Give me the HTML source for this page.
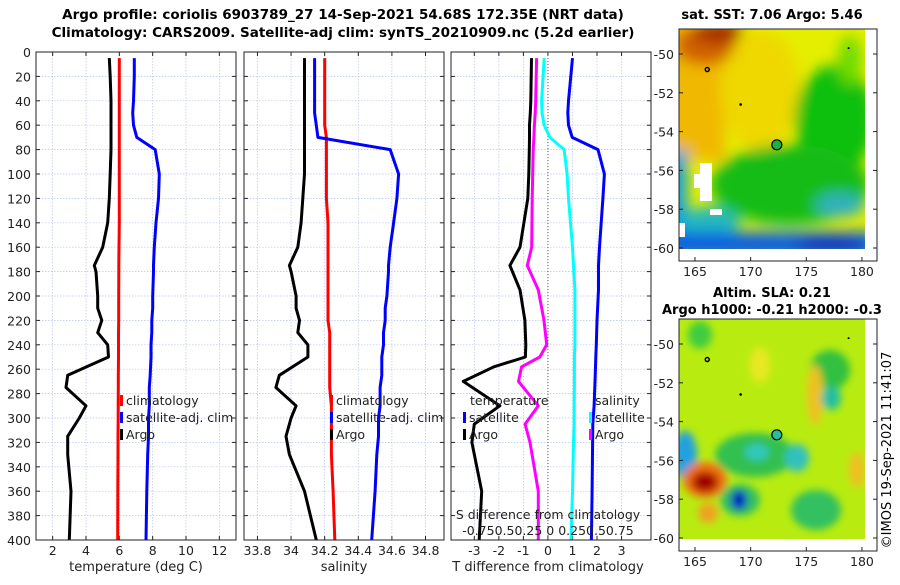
<!DOCTYPE html>
<html><head><meta charset="utf-8">
<style>
body{margin:0;background:#fff;width:900px;height:580px;overflow:hidden;font-family:"Liberation Sans",sans-serif;}
svg text{font-family:"DejaVu Sans","Liberation Sans",sans-serif;}
</style></head>
<body>
<svg id="chart" width="900" height="580" viewBox="0 0 900 580">
<defs>
<filter id="bl" x="-50%" y="-50%" width="200%" height="200%"><feGaussianBlur stdDeviation="7"/></filter>
<filter id="bl2" x="-50%" y="-50%" width="200%" height="200%"><feGaussianBlur stdDeviation="4"/></filter>
<clipPath id="c1"><rect x="679" y="29" width="186" height="220"/></clipPath>
<clipPath id="c2"><rect x="679" y="319" width="186" height="220"/></clipPath>
</defs>
<text x="343" y="19" font-size="13.5" font-weight="bold" text-anchor="middle">Argo profile: coriolis 6903789_27 14-Sep-2021 54.68S 172.35E (NRT data)</text>
<text x="343" y="37" font-size="13.5" font-weight="bold" text-anchor="middle">Climatology: CARS2009. Satellite-adj clim: synTS_20210909.nc (5.2d earlier)</text>
<g id="panels"></g>
<g id="maps">
 <text x="772" y="19" font-size="13" font-weight="bold" text-anchor="middle">sat. SST: 7.06 Argo: 5.46</text>
 <g clip-path="url(#c1)">
  <rect x="679" y="29" width="186" height="220" fill="#e6ee00"/>
  <g filter="url(#bl)">
   <rect x="665" y="20" width="60" height="140" fill="#f0b800"/>
   <ellipse cx="760" cy="90" rx="40" ry="60" fill="#eed800"/>
   <ellipse cx="705" cy="45" rx="30" ry="20" fill="#d06000"/>
   <ellipse cx="718" cy="32" rx="25" ry="10" fill="#a02000"/>
   <ellipse cx="835" cy="120" rx="40" ry="55" fill="#10c010"/>
   <ellipse cx="790" cy="185" rx="80" ry="40" fill="#18bc18"/>
   <ellipse cx="850" cy="60" rx="12" ry="25" fill="#70dc00"/>
   <rect x="665" y="150" width="22" height="100" fill="#10a0e0"/>
   <ellipse cx="710" cy="222" rx="30" ry="15" fill="#20b8c0"/>
   <ellipse cx="840" cy="205" rx="25" ry="12" fill="#30b0c0"/>
   <rect x="665" y="232" width="210" height="25" fill="#1060e0"/>
   <ellipse cx="830" cy="245" rx="35" ry="8" fill="#0830c0"/>
  </g>
  <rect x="700" y="163" width="12" height="38" fill="#fff"/>
  <rect x="694" y="174" width="8" height="14" fill="#fff"/>
  <rect x="710" y="209" width="12" height="6" fill="#fff"/>
  <rect x="679" y="223" width="6" height="14" fill="#fff"/>
 </g>
 <g clip-path="url(#c2)">
  <rect x="679" y="319" width="186" height="220" fill="#b8ec10"/>
  <g filter="url(#bl2)">
   <ellipse cx="700" cy="335" rx="12" ry="14" fill="#40cc40"/>
   <ellipse cx="760" cy="365" rx="10" ry="18" fill="#e8e820"/>
   <ellipse cx="830" cy="370" rx="20" ry="20" fill="#30c040"/>
   <ellipse cx="815" cy="395" rx="8" ry="30" fill="#f0c020"/>
   <ellipse cx="831" cy="398" rx="10" ry="12" fill="#20c0a0"/>
   <ellipse cx="755" cy="455" rx="40" ry="22" fill="#30c050"/>
   <ellipse cx="757" cy="452" rx="12" ry="8" fill="#30c8c0"/>
   <ellipse cx="797" cy="458" rx="12" ry="14" fill="#30c0c0"/>
   <ellipse cx="685" cy="455" rx="12" ry="24" fill="#20a0e0"/>
   <ellipse cx="705" cy="480" rx="22" ry="18" fill="#f07010"/>
   <ellipse cx="705" cy="482" rx="13" ry="10" fill="#a00000"/>
   <ellipse cx="740" cy="500" rx="20" ry="16" fill="#30c060"/>
   <ellipse cx="739" cy="500" rx="8" ry="10" fill="#0020c0"/>
   <ellipse cx="816" cy="510" rx="25" ry="20" fill="#30c060"/>
   <ellipse cx="708" cy="513" rx="10" ry="10" fill="#f0a020"/>
   <ellipse cx="857" cy="470" rx="8" ry="18" fill="#f0c020"/>
  </g>
 </g>
 <g id="mapaxes"></g>
 <text x="772" y="297" font-size="13" font-weight="bold" text-anchor="middle">Altim. SLA: 0.21</text>
 <text x="772" y="314" font-size="13" font-weight="bold" text-anchor="middle">Argo h1000: -0.21 h2000: -0.3</text>
 <text x="0" y="0" font-size="13" text-anchor="middle" transform="translate(891,450) rotate(-90)">©IMOS 19-Sep-2021 11:41:07</text>
</g>
</svg>
<script>
const depths=[5,20,40,50,60,70,80,100,120,140,160,175,180,200,210,220,230,240,250,265,275,290,300,315,330,360,400];
const argoT=[5.4,5.45,5.5,5.5,5.5,5.5,5.5,5.45,5.4,5.3,5.0,4.5,4.6,4.7,4.7,4.95,4.7,5.3,5.35,2.9,2.8,4.0,3.6,2.9,2.9,3.1,3.0];
const climT=[6.0,6.0,6.0,6.0,6.0,6.0,6.0,6.0,6.0,6.0,5.98,5.97,5.97,5.96,5.96,5.96,5.95,5.95,5.95,5.94,5.94,5.93,5.93,5.92,5.92,5.91,5.9];
const satT=[6.9,6.9,6.85,6.8,6.85,7.05,8.15,8.4,8.35,8.2,8.1,8.05,8.05,8.0,8.0,7.95,7.95,7.9,7.9,7.85,7.8,7.8,7.75,7.75,7.7,7.65,7.6];
const argoS=[34.08,34.08,34.08,34.08,34.08,34.08,34.08,34.08,34.07,34.06,34.04,33.99,34.0,34.03,34.03,34.05,34.04,34.1,34.1,33.93,33.91,34.03,34.0,33.97,33.99,34.08,34.15];
const climS=[34.2,34.2,34.2,34.2,34.2,34.21,34.21,34.21,34.21,34.22,34.22,34.22,34.22,34.22,34.22,34.22,34.23,34.23,34.23,34.23,34.23,34.24,34.24,34.24,34.24,34.25,34.26];
const satS=[34.14,34.14,34.14,34.14,34.15,34.16,34.59,34.64,34.63,34.61,34.59,34.58,34.58,34.57,34.56,34.56,34.55,34.55,34.54,34.54,34.53,34.53,34.52,34.52,34.51,34.5,34.48];
// difference panel series (own depth levels)
const dDepths=[5,40,50,60,70,80,100,120,160,175,195,220,240,250,258,270,290,305,320,360,400];
const argoDT=[-0.67,-0.7,-0.72,-0.75,-0.75,-0.76,-0.78,-0.82,-1.14,-1.55,-1.14,-0.94,-0.9,-0.92,-2.2,-3.45,-1.96,-3.0,-3.1,-2.7,-2.8];
const satDT=[1.0,0.84,0.81,0.84,0.99,2.04,2.3,2.24,2.1,2.06,2.06,2.0,1.97,1.95,1.94,1.92,1.88,1.83,1.82,1.8,1.77];
const satDS=[-0.038,-0.065,-0.06,-0.038,0.02,0.165,0.195,0.21,0.25,0.26,0.275,0.275,0.275,0.27,0.27,0.27,0.268,0.268,0.26,0.25,0.235];
const argoDS=[-0.115,-0.125,-0.13,-0.138,-0.143,-0.15,-0.155,-0.16,-0.165,-0.21,-0.098,-0.04,-0.013,-0.083,-0.268,-0.3,-0.098,-0.233,-0.183,-0.098,-0.098];
const depthTicks=[0,20,40,60,80,100,120,140,160,180,200,220,240,260,280,300,320,340,360,380,400];
const tTicks=[2,4,6,8,10,12];
const sTicks=[33.8,34,34.2,34.4,34.6,34.8];
const dTTicks=[-3,-2,-1,0,1,2,3];
const lonTicks=[165,170,175,180];
const latTicks=[-50,-52,-54,-56,-58,-60];

const NS='http://www.w3.org/2000/svg';
function mk(tag,attrs,parent){const e=document.createElementNS(NS,tag);for(const k in attrs)e.setAttribute(k,attrs[k]);parent.appendChild(e);return e;}
const P=document.getElementById('panels');
const Y0=52,Y1=540;
const y=d=>Y0+(d/400)*(Y1-Y0);
function panel(x0,xmin,xmax,name){
  const fx=v=>x0+(v-xmin)/(xmax-xmin)*200;
  const g=mk('g',{},P);
  
  
  return {g,fx,x0};
}
function grid(p,ticks){
  depthTicks.forEach(d=>{mk('line',{x1:p.x0,x2:p.x0+200,y1:y(d),y2:y(d),stroke:'#b8c4e8','stroke-width':0.7,'stroke-dasharray':'1.5,1.5'},p.g);
    mk('line',{x1:p.x0,x2:p.x0+4,y1:y(d),y2:y(d),stroke:'#222'},p.g);mk('line',{x1:p.x0+196,x2:p.x0+200,y1:y(d),y2:y(d),stroke:'#222'},p.g);});
  ticks.forEach(v=>{const X=p.fx(v);mk('line',{x1:X,x2:X,y1:Y0,y2:Y1,stroke:'#b8c4e8','stroke-width':0.7,'stroke-dasharray':'1.5,1.5'},p.g);
    mk('line',{x1:X,x2:X,y1:Y1,y2:Y1-4,stroke:'#222'},p.g);mk('line',{x1:X,x2:X,y1:Y0,y2:Y0+4,stroke:'#222'},p.g);
    const t=mk('text',{x:X,y:Y1+15,'font-size':12.5,'text-anchor':'middle',fill:'#222'},p.g);t.textContent=String(v);});
}
function frame(p){mk('rect',{x:p.x0,y:Y0,width:200,height:Y1-Y0,fill:'none',stroke:'#222','stroke-width':1},p.g);}
function line(p,vals,color,name,fx,dep){
  const f=fx||p.fx;const dd=dep||depths;
  const pts=vals.map((v,i)=>f(v).toFixed(1)+','+y(dd[i]).toFixed(1)).join(' ');
  const l=mk('polyline',{points:pts,fill:'none',stroke:color,'stroke-width':3,'stroke-linejoin':'round'},p.g);
  
  
}
function legend(p,x,yy,items){
  items.forEach((it,i)=>{mk('rect',{x:x,y:yy+i*17-10,width:3,height:11,fill:it[1]},p.g);
    const t=mk('text',{x:x+6,y:yy+i*17,'font-size':12.5,fill:'#222'},p.g);t.textContent=it[0];
    
    });
}
// panel 1
const p1=panel(36,1,13,'temperature-panel');
grid(p1,tTicks);
depthTicks.forEach(d=>{const t=mk('text',{x:31,y:y(d)+5,'font-size':12.5,'text-anchor':'end',fill:'#222'},p1.g);t.textContent=String(d);});
line(p1,climT,'#f00','climatology-temp-line');line(p1,satT,'#00f','satellite-temp-line');line(p1,argoT,'#000','argo-temp-line');
frame(p1);
legend(p1,120,405,[['climatology','#f00'],['satellite-adj. clim','#00f'],['Argo','#000']]);
let t=mk('text',{x:136,y:571,'font-size':13,'text-anchor':'middle',fill:'#222'},p1.g);t.textContent='temperature (deg C)';
// panel 2
const p2=panel(244,33.72,34.91,'salinity-panel');
grid(p2,sTicks);
line(p2,climS,'#f00','climatology-sal-line');line(p2,satS,'#00f','satellite-sal-line');line(p2,argoS,'#000','argo-sal-line');
frame(p2);
legend(p2,330,405,[['climatology','#f00'],['satellite-adj. clim','#00f'],['Argo','#000']]);
t=mk('text',{x:344,y:571,'font-size':13,'text-anchor':'middle',fill:'#222'},p2.g);t.textContent='salinity';
// panel 3
const p3=panel(451,-3.95,4.2,'difference-panel');
grid(p3,dTTicks);
const fs=v=>p3.fx(v*4);
mk('line',{x1:p3.fx(0),x2:p3.fx(0),y1:Y0,y2:Y1,stroke:'#555','stroke-width':1,'stroke-dasharray':'1,2'},p3.g);
line(p3,argoDS,'#f0f','argo-sal-diff-line',fs,dDepths);
line(p3,satDS,'#0ff','satellite-sal-diff-line',fs,dDepths);
line(p3,satDT,'#00f','satellite-temp-diff-line',null,dDepths);
line(p3,argoDT,'#000','argo-temp-diff-line',null,dDepths);
frame(p3);
t=mk('text',{x:470,y:405,'font-size':12.5,fill:'#222'},p3.g);t.textContent='temperature';
legend(p3,463,422,[['satellite','#00f'],['Argo','#000']]);
t=mk('text',{x:595,y:405,'font-size':12.5,fill:'#222'},p3.g);t.textContent='salinity';
legend(p3,589,422,[['satellite','#0ff'],['Argo','#f0f']]);
t=mk('text',{x:548,y:519,'font-size':12.5,'text-anchor':'middle',fill:'#222'},p3.g);t.textContent='S difference from climatology';
t=mk('text',{x:548,y:535,'font-size':12.5,'text-anchor':'middle',fill:'#222'},p3.g);t.textContent='-0.750.50.25 0 0.250.50.75';
t=mk('text',{x:548,y:571,'font-size':13,'text-anchor':'middle',fill:'#222'},p3.g);t.textContent='T difference from climatology';
// map axes
const MA=document.getElementById('mapaxes');
const lonX=l=>695+(l-165)*11.13;
function mapAxes(top,lat50){
  const latY=la=>lat50+(-50-la)*19.4;
  mk('rect',{x:679,y:top,width:198,height:232,fill:'none',stroke:'#222'},MA);
  lonTicks.forEach(l=>{const X=lonX(l);mk('line',{x1:X,x2:X,y1:top+232,y2:top+228,stroke:'#222'},MA);
    const tt=mk('text',{x:X,y:top+247,'font-size':12.5,'text-anchor':'middle',fill:'#222'},MA);tt.textContent=String(l);});
  latTicks.forEach(la=>{const Y=latY(la);mk('line',{x1:679,x2:683,y1:Y,y2:Y,stroke:'#222'},MA);mk('line',{x1:873,x2:877,y1:Y,y2:Y,stroke:'#222'},MA);
    const tt=mk('text',{x:674,y:Y+5,'font-size':12.5,'text-anchor':'end',fill:'#222'},MA);tt.textContent=String(la);});
  mk('circle',{cx:lonX(166.1),cy:latY(-50.8),r:2,fill:'none',stroke:'#000','stroke-width':1.5},MA);
  mk('circle',{cx:lonX(169.1),cy:latY(-52.6),r:1.3,fill:'#000'},MA);
  mk('circle',{cx:lonX(178.8),cy:latY(-49.7),r:1,fill:'#000'},MA);
  const c=mk('circle',{cx:lonX(172.35),cy:latY(-54.68),r:5,fill:top<100?'#20b040':'#20c0a0',stroke:'#000','stroke-width':1.2},MA);
  
  
}
mapAxes(29,54);
mapAxes(319,344);
</script>
</body></html>
